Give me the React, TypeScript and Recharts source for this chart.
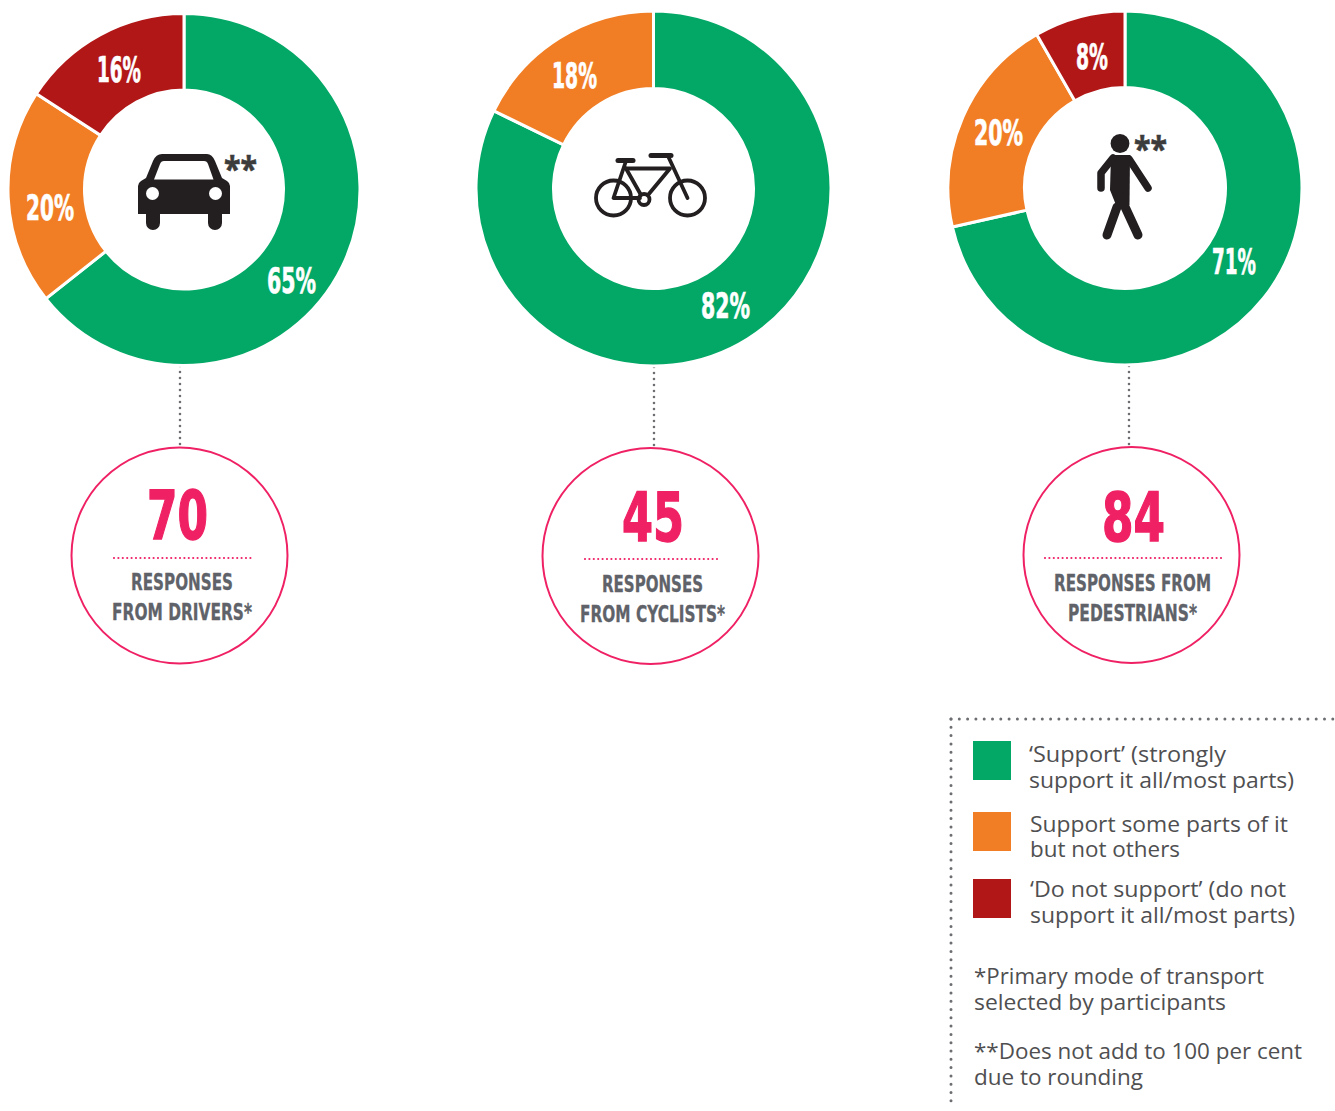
import { PieChart, Pie, Cell } from 'recharts';

const colors = ['#03a866', '#f17e25', '#b21717'];
const categories = ['Support', 'Support some parts', 'Do not support'];

// slice sizes; labels show them rounded
const driverValues = [65, 20, 16];
const cyclistValues = [82.2, 17.8];
const pedestrianValues = [71.4, 20.2, 8.3];

const responseCounts = ['70', '45', '84'];

const legendLabels = [
  ['\u2018Support\u2019 (strongly', 'support it all/most parts)'],
  ['Support some parts of it', 'but not others'],
  ['\u2018Do not support\u2019 (do not', 'support it all/most parts)'],
];
const noteLabels = [
  ['*Primary mode of transport', 'selected by participants'],
  ['**Does not add to 100 per cent', 'due to rounding'],
];

const PINK = '#ef2164';
const GREY = '#5f6369';
const BODY = '#4f4f51';
const ICON = '#231f20';
const HEAD_FONT = '"Liberation Sans Narrow", "DejaVu Sans Condensed", sans-serif';
const BODY_FONT = '"Open Sans", sans-serif';

const toRow = (values: number[]) =>
  values.map((value, i) => ({ name: categories[i], value }));

// where each slice's percentage sits: x, baseline, text width
const donuts = [
  {
    values: driverValues, cx: 184, cy: 189.5, r: 176, inner: 99.5,
    labels: [[267, 293, 49], [26, 220, 48], [97, 82, 44]],
  },
  {
    values: cyclistValues, cx: 653.5, cy: 188.5, r: 177.5, inner: 100,
    labels: [[701, 318, 49], [552, 88, 45]],
  },
  {
    values: pedestrianValues, cx: 1125, cy: 188, r: 177, inner: 100.5,
    labels: [[1212, 274, 44], [974, 145, 49], [1076, 69, 32]],
  },
];

const badges = [
  {
    cx: 179.5, cy: 555.5, stemX: 180, stemTop: 366, stemBottom: 445, numX: 147, numW: 61, numY: 539,
    ruleFrom: 114, ruleTo: 251, ruleY: 558,
    lines: [['RESPONSES', 131, 102, 590], ['FROM DRIVERS*', 112, 140, 620]],
  },
  {
    cx: 650.5, cy: 556, stemX: 654, stemTop: 367, stemBottom: 446, numX: 622, numW: 62, numY: 541,
    ruleFrom: 585, ruleTo: 721, ruleY: 559,
    lines: [['RESPONSES', 602, 101, 592], ['FROM CYCLISTS*', 580, 145, 622]],
  },
  {
    cx: 1131.5, cy: 555, stemX: 1129, stemTop: 366, stemBottom: 445, numX: 1102, numW: 63, numY: 541,
    ruleFrom: 1045, ruleTo: 1222, ruleY: 558,
    lines: [['RESPONSES FROM', 1054, 157, 591], ['PEDESTRIANS*', 1068, 129, 621]],
  },
];

const legendRows = [
  { swatchY: 741, x: 1029, base: [762, 788], widths: [197, 265] },
  { swatchY: 812, x: 1030, base: [832, 857], widths: [258, 150] },
  { swatchY: 879, x: 1030, base: [897, 923], widths: [256, 265] },
];
const noteRows = [
  { x: 974, base: [984, 1010], widths: [290, 252] },
  { x: 974, base: [1059, 1085], widths: [328, 169] },
];

function Car() {
  return (
    <g>
      <path
        fill={ICON}
        d="M138 214 V186 Q138 183 141 181 L146 178 L153 161 Q156 154 162 154 H207 Q212 154 215 161 L222 178 L227 181 Q230 183 230 186 V214 H222 V223 a7 7 0 0 1 -14 0 V214 H160 V223 a7 7 0 0 1 -14 0 V214 Z"
      />
      <path fill="#fff" d="M154 179.5 L160 164 Q161 161 164 161 H204 Q207 161 208 164 L213.5 179.5 Z" />
      <circle cx={152.5} cy={193.5} r={6.5} fill="#fff" />
      <circle cx={215.5} cy={193.5} r={6.5} fill="#fff" />
    </g>
  );
}

function Bike() {
  const line = { stroke: ICON, strokeWidth: 3.8, fill: 'none', strokeLinecap: 'round' as const, strokeLinejoin: 'round' as const };
  return (
    <g>
      <circle cx={613.5} cy={198} r={17.5} {...line} />
      <circle cx={687.5} cy={198} r={17.5} {...line} />
      <circle cx={644} cy={199.5} r={5.5} {...line} />
      <path d="M626 161 L613.5 198 H640" {...line} />
      <path d="M626 168.5 L641 195" {...line} />
      <path d="M626 168.5 H670 L648 195" {...line} />
      <path d="M668 156 L687.5 198" {...line} />
      <path d="M618 160.5 H633" {...line} strokeWidth={5} />
      <path d="M651 155.5 H671" {...line} strokeWidth={5} />
    </g>
  );
}

function Walker() {
  const limb = { stroke: ICON, fill: 'none', strokeLinecap: 'round' as const, strokeLinejoin: 'round' as const };
  return (
    <g>
      <circle cx={1120} cy={143.5} r={9.4} fill={ICON} />
      <path fill={ICON} d="M1111 155 H1130 L1129.5 205 L1116 205 L1110 190 Z" />
      <path d="M1113 158 L1101 173 V188" {...limb} strokeWidth={7.5} />
      <path d="M1129 159 L1148 188" {...limb} strokeWidth={7.5} />
      <path d="M1120 196 L1138 235" {...limb} strokeWidth={9} />
      <path d="M1117 207 L1107 235" {...limb} strokeWidth={9} />
    </g>
  );
}

export default function App() {
  return (
    <div style={{ position: 'absolute', left: 0, top: 0, width: 1335, height: 1111, background: '#fff' }}>
      <PieChart width={1335} height={1111} margin={{ top: 0, right: 0, bottom: 0, left: 0 }}>
        {donuts.map((d, n) => (
          <Pie
            key={n}
            data={toRow(d.values)}
            dataKey="value"
            nameKey="name"
            cx={d.cx}
            cy={d.cy}
            innerRadius={d.inner}
            outerRadius={d.r}
            startAngle={90}
            endAngle={-270}
            stroke="#fff"
            strokeWidth={3}
            isAnimationActive={false}
            labelLine={false}
            label={(p: any) => {
              const [x, y, w] = d.labels[p.index];
              return (
                <text
                  x={x}
                  y={y}
                  fill="#fff"
                  stroke="#fff"
                  strokeWidth={0.7}
                  textAnchor="start"
                  fontFamily={HEAD_FONT}
                  fontWeight={700}
                  fontSize={36}
                  textLength={w}
                  lengthAdjust="spacingAndGlyphs"
                >
                  {`${Math.round(p.value)}%`}
                </text>
              );
            }}
          >
            {d.values.map((_, i) => (
              <Cell key={i} fill={colors[i]} />
            ))}
          </Pie>
        ))}

        <Car />
        <Bike />
        <Walker />
        <text x={224} y={181} fontFamily={BODY_FONT} fontWeight={700} fontSize={34} fill="#3c3c3c" stroke="#3c3c3c" strokeWidth={0.6} textLength={33} lengthAdjust="spacingAndGlyphs">**</text>
        <text x={1134} y={161} fontFamily={BODY_FONT} fontWeight={700} fontSize={34} fill="#3c3c3c" stroke="#3c3c3c" strokeWidth={0.6} textLength={33} lengthAdjust="spacingAndGlyphs">**</text>

        {badges.map((b, i) => (
          <g key={i}>
            <line x1={b.stemX} x2={b.stemX} y1={b.stemTop} y2={b.stemBottom} stroke="#6d6e71" strokeWidth={2.6} strokeLinecap="round" strokeDasharray="0 6" />
            <circle cx={b.cx} cy={b.cy} r={108} fill="#fff" stroke={PINK} strokeWidth={2} />
            <text x={b.numX} y={b.numY} fill={PINK} stroke={PINK} strokeWidth={1.4} fontFamily={HEAD_FONT} fontWeight={700} fontSize={68} textLength={b.numW} lengthAdjust="spacingAndGlyphs">
              {responseCounts[i]}
            </text>
            <line x1={b.ruleFrom} x2={b.ruleTo} y1={b.ruleY} y2={b.ruleY} stroke={PINK} strokeWidth={2.2} strokeLinecap="round" strokeDasharray="0 4.4" />
            {b.lines.map(([t, x, w, y]) => (
              <text key={t as string} x={x as number} y={y as number} fill={GREY} stroke={GREY} strokeWidth={0.3} fontFamily={HEAD_FONT} fontWeight={700} fontSize={23} textLength={w as number} lengthAdjust="spacingAndGlyphs">
                {t}
              </text>
            ))}
          </g>
        ))}

        <line x1={951} x2={1335} y1={719} y2={719} stroke="#6d6e71" strokeWidth={3} strokeLinecap="round" strokeDasharray="0 8.3" />
        <line x1={951} x2={951} y1={719} y2={1104} stroke="#6d6e71" strokeWidth={3} strokeLinecap="round" strokeDasharray="0 8.3" />

        {legendRows.map((row, i) => (
          <g key={i}>
            <rect x={973} y={row.swatchY} width={38} height={39} fill={colors[i]} />
            {legendLabels[i].map((t, j) => (
              <text key={j} x={row.x} y={row.base[j]} fill={BODY} fontFamily={BODY_FONT} fontSize={22} textLength={row.widths[j]} lengthAdjust="spacingAndGlyphs">
                {t}
              </text>
            ))}
          </g>
        ))}
        {noteRows.map((row, i) => (
          <g key={i}>
            {noteLabels[i].map((t, j) => (
              <text key={j} x={row.x} y={row.base[j]} fill={BODY} fontFamily={BODY_FONT} fontSize={22} textLength={row.widths[j]} lengthAdjust="spacingAndGlyphs">
                {t}
              </text>
            ))}
          </g>
        ))}
      </PieChart>
    </div>
  );
}
